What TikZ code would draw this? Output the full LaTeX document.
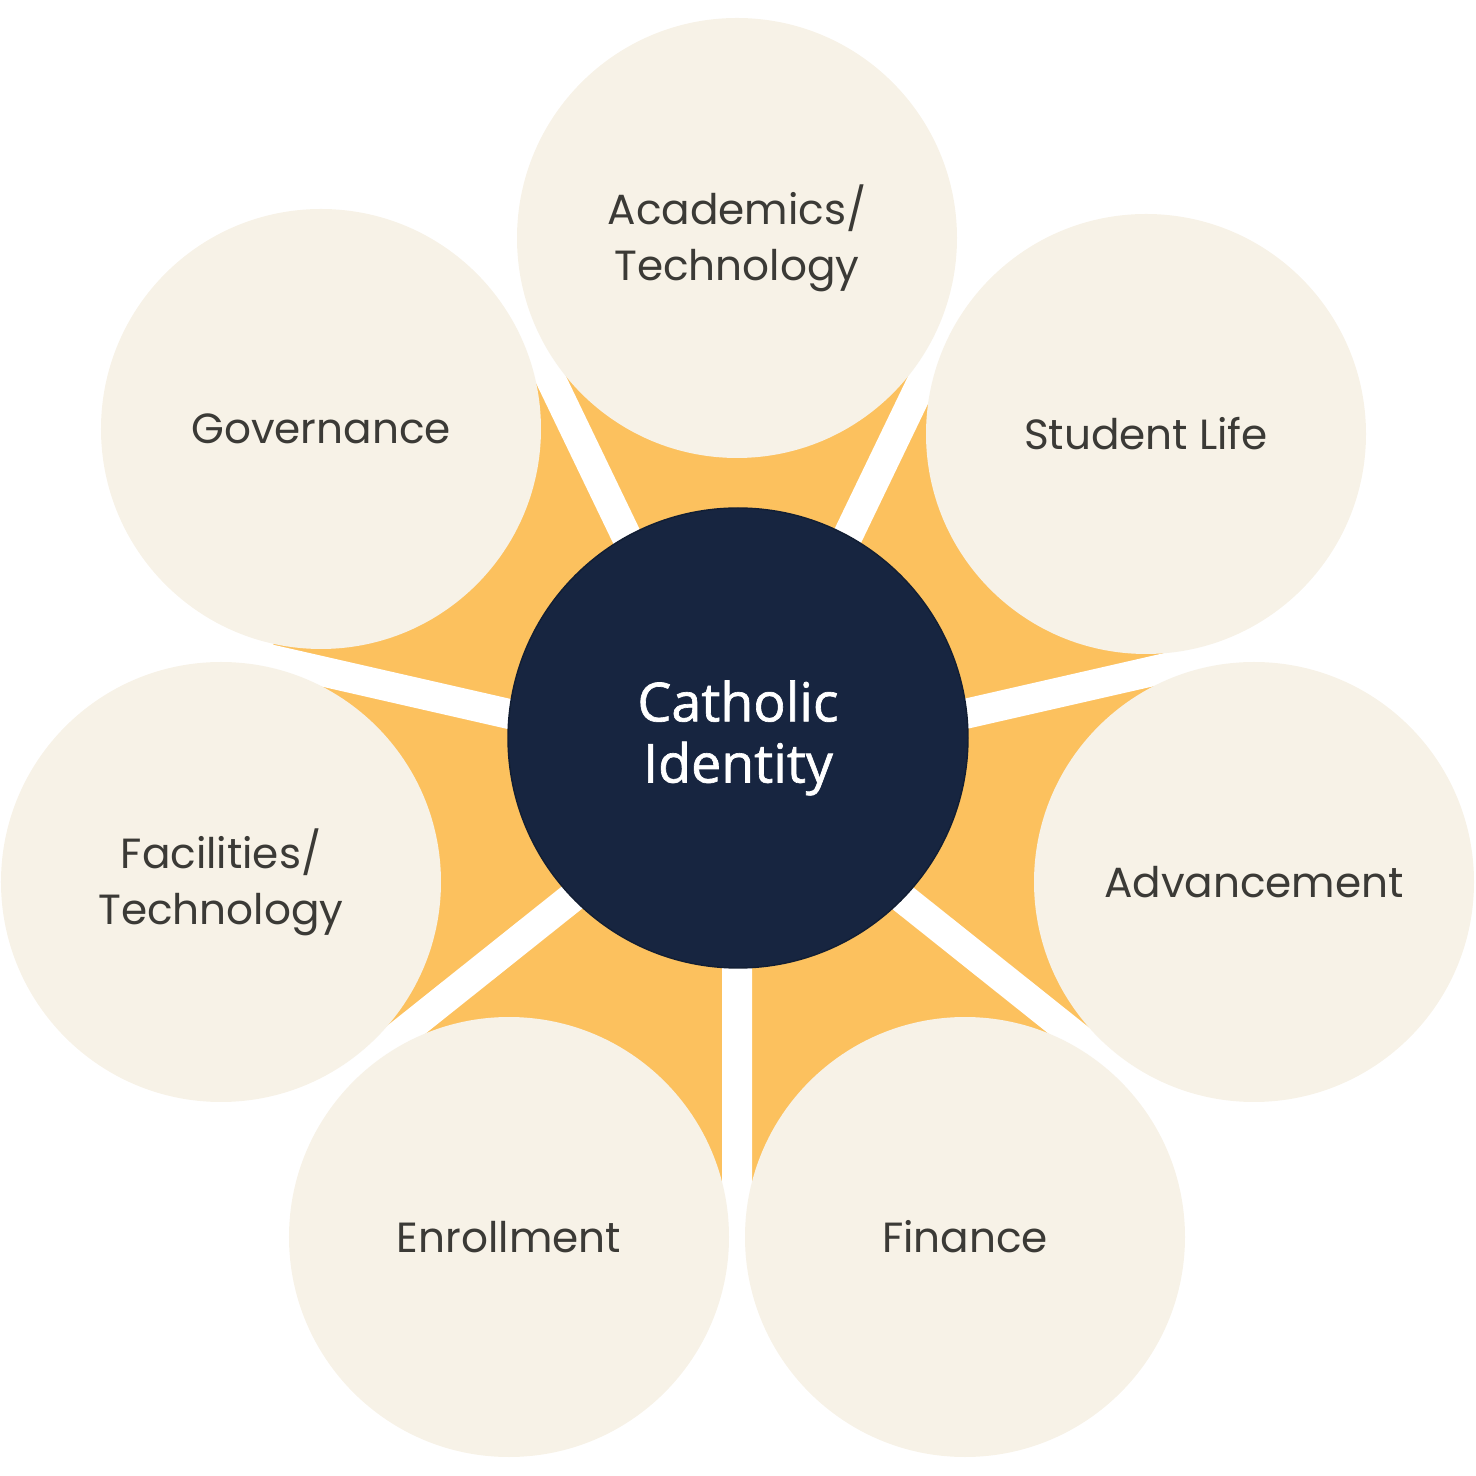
\documentclass[tikz,border=0pt]{standalone}
\usepackage{fontspec}
\setmainfont{Poppins}
\newfontfamily\hubfont{Open Sans}[FakeBold=1.2]
\definecolor{cream}{HTML}{F7F2E7}
\definecolor{sun}{HTML}{FCC15E}
\definecolor{navy}{HTML}{172540}
\definecolor{ink}{HTML}{3B3A36}

\begin{document}
\begin{tikzpicture}[
  topic/.style = {circle, fill=cream, minimum size=4.4cm, inner sep=0pt,
    align=center, text=ink, font=\fontsize{12}{15.9}\selectfont},
  hub/.style = {circle, fill=navy, draw=navy!80!black, line width=0.4pt,
    minimum size=4.6cm, inner sep=0pt, align=center, text=white,
    font=\hubfont\fontsize{15.3}{17.4}\selectfont},
  spoke/.style = {draw=white, line width=0.30cm}]
  \useasboundingbox (-7.37,-7.10) rectangle (7.39,7.66);

  \coordinate (o) at (0,0);
  \coordinate (c1) at (0,5.28);
  \coordinate (c2) at (4.09,3.32);
  \coordinate (c3) at (5.17,-1.16);
  \coordinate (c4) at (2.28,-4.71);
  \coordinate (c5) at (-2.28,-4.71);
  \coordinate (c6) at (-5.16,-1.16);
  \coordinate (c7) at (-4.16,3.37);

  % orange star behind the circles
  \fill[sun] (c1) -- (c2) -- (c3) -- (c4) -- (c5) -- (c6) -- (c7) -- cycle;

  % white gaps between the petals
  \coordinate (s1) at (64.29:5);
  \coordinate (s2) at (12.86:5);
  \coordinate (s3) at (-38.57:5);
  \coordinate (s4) at (-90:5);
  \coordinate (s5) at (-141.43:5);
  \coordinate (s6) at (167.14:5);
  \coordinate (s7) at (115.71:5);
  \draw[spoke] (o) -- (s1) (o) -- (s2) (o) -- (s3) (o) -- (s4)
    (o) -- (s5) (o) -- (s6) (o) -- (s7);

  \node[topic] (acad) at (c1) {Academics/\\Technology};
  \node[topic] (life) at (c2) {Student Life};
  \node[topic] (adv) at (c3) {Advancement};
  \node[topic] (fin) at (c4) {Finance};
  \node[topic] (enrol) at (c5) {Enrollment};
  \node[topic] (facil) at (c6) {Facilities/\\Technology};
  \node[topic] (gov) at (c7) {Governance};

  \node[hub] (core) at (0.01,0.28) {Catholic\\Identity};
\end{tikzpicture}
\end{document}
